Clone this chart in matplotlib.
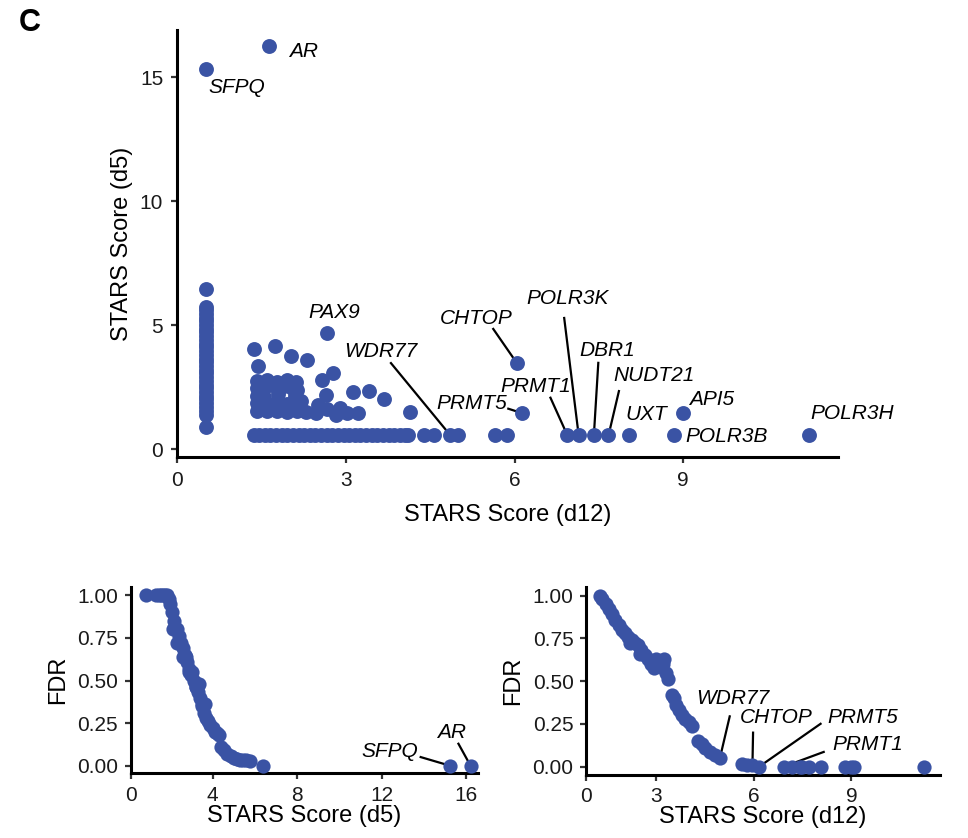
import matplotlib
matplotlib.use("Agg")
import matplotlib.pyplot as plt

plt.rcParams['font.family'] = ['Liberation Sans', 'DejaVu Sans']

BLUE = '#3A53A4'

# ---------- data: main scatter (STARS d12 vs d5) ----------
# labelled genes
gene_names = ['AR', 'SFPQ', 'PAX9', 'WDR77', 'CHTOP', 'PRMT5', 'PRMT1', 'POLR3K',
              'DBR1', 'NUDT21', 'UXT', 'API5', 'POLR3B', 'POLR3H']
gene_d12 = [1.63, 0.51, 2.66, 4.86, 6.04, 6.13, 6.94, 7.14, 7.41, 7.67, 8.03, 8.99, 8.83, 11.23]
gene_d5 = [16.25, 15.31, 4.66, 0.55, 3.47, 1.45, 0.55, 0.55, 0.55, 0.55, 0.55, 1.45, 0.55, 0.55]

# column of genes at the d12 floor
col_d5 = [0.9, 1.37, 1.55, 1.7, 1.85, 2.0, 2.15, 2.3, 2.45, 2.6, 2.75, 2.9, 3.05, 3.2,
          3.35, 3.5, 3.65, 3.8, 3.95, 4.1, 4.25, 4.4, 4.55, 4.7, 4.85, 5.0, 5.15, 5.3,
          5.45, 5.6, 5.74, 6.44]
col_d12 = [0.51] * len(col_d5)

# row of genes at the d5 floor
row_d12 = [1.36, 1.46, 1.56, 1.66, 1.76, 1.86, 1.96, 2.06, 2.16, 2.26, 2.36, 2.46, 2.56,
           2.66, 2.76, 2.86, 2.96, 3.06, 3.16, 3.26, 3.36, 3.46, 3.56, 3.66, 3.76, 3.86,
           3.96, 4.06, 4.1, 4.39, 4.57, 5.0, 5.65, 5.86]
row_d5 = [0.55] * len(row_d12)

# remaining scattered genes
other_d12 = [1.36, 1.75, 2.02, 2.31, 1.44, 2.77, 2.58, 3.12, 3.41, 3.68, 4.15, 2.65, 2.50,
             2.89, 3.03, 3.21, 2.47, 2.67, 2.83,
             1.42, 1.6, 1.78, 1.95, 2.12,
             1.42, 1.55, 2.05, 2.14,
             1.42, 1.55, 1.8, 2.1,
             1.42, 1.6, 1.78, 1.95, 2.14,
             1.42, 1.6, 1.78, 1.95, 2.14, 2.3,
             1.5, 1.7, 1.88, 2.05, 1.5, 2.2, 1.65, 1.9]
other_d5 = [4.02, 4.15, 3.75, 3.59, 3.35, 3.08, 2.78, 2.31, 2.35, 2.0, 1.49, 2.18, 1.77,
            1.64, 1.46, 1.44, 1.44, 1.6, 1.37,
            2.75, 2.78, 2.72, 2.8, 2.7,
            2.45, 2.5, 2.45, 2.4,
            2.15, 2.1, 2.2, 2.12,
            1.85, 1.8, 1.88, 1.82, 1.85,
            1.55, 1.52, 1.55, 1.5, 1.55, 1.5,
            1.68, 1.7, 1.65, 1.7, 2.0, 1.95, 2.6, 2.55]

# ---------- data: FDR vs STARS d5 ----------
fdr5_score = [0.85, 1.35, 1.45, 1.55, 1.65, 1.75, 1.85, 1.95, 2.0, 2.1, 2.2, 2.3, 2.4, 2.5,
              2.6, 2.7, 2.8, 2.9, 3.0, 3.1, 3.2, 3.3, 3.4, 3.5, 3.6, 3.7, 3.8, 3.9, 4.0,
              4.1, 4.2, 4.3, 4.42, 4.55, 4.7, 4.85, 5.0, 5.15, 5.3, 5.45, 5.6, 5.75, 6.4,
              2.15, 2.45, 2.75, 3.05, 3.35, 3.65, 2.3, 2.6, 2.9, 3.2, 3.5]
fdr5_value = [1.0, 1.0, 1.0, 1.0, 1.0, 1.0, 1.0, 0.98, 0.95, 0.9, 0.85, 0.8, 0.76, 0.72,
              0.69, 0.65, 0.61, 0.57, 0.53, 0.5, 0.46, 0.43, 0.4, 0.35, 0.31, 0.28, 0.26,
              0.24, 0.22, 0.2, 0.19, 0.18, 0.11, 0.09, 0.07, 0.055, 0.045, 0.038, 0.033,
              0.032, 0.033, 0.03, 0.0,
              0.8, 0.72, 0.64, 0.55, 0.48, 0.36, 0.72, 0.64, 0.55, 0.46, 0.36]
fdr5_genes = ['SFPQ', 'AR']
fdr5_gene_score = [15.24, 16.2]
fdr5_gene_value = [0.0, 0.0]

# ---------- data: FDR vs STARS d12 ----------
fdr12_score = [1.28, 1.35, 1.45, 1.55, 1.65, 1.75, 1.85, 1.95, 2.05, 2.15, 2.25, 2.35,
               2.45, 2.55, 2.65, 2.75, 2.85, 2.95, 3.05, 3.12, 3.2, 3.3, 3.38, 3.5, 3.55,
               3.62, 3.7, 3.8, 3.9, 4.0, 4.1, 4.3, 4.4, 4.5, 4.65, 4.8, 5.63, 5.8, 7.16,
               7.42, 7.47, 7.69, 8.06, 8.81, 8.99, 9.07, 11.24, 3.0, 3.15, 3.25, 2.2, 2.5]
fdr12_value = [1.0, 0.98, 0.95, 0.92, 0.89, 0.86, 0.83, 0.8, 0.78, 0.76, 0.74, 0.72,
               0.71, 0.68, 0.655, 0.63, 0.6, 0.575, 0.6, 0.62, 0.6, 0.55, 0.51, 0.42, 0.4,
               0.36, 0.33, 0.3, 0.28, 0.26, 0.24, 0.15, 0.13, 0.11, 0.088, 0.07, 0.014,
               0.012, 0.0, 0.0, 0.0, 0.0, 0.0, 0.0, 0.0, 0.0, 0.0, 0.63, 0.58, 0.63,
               0.72, 0.66]
fdr12_genes = ['WDR77', 'CHTOP', 'PRMT5', 'PRMT1']
fdr12_gene_score = [4.96, 5.96, 6.17, 6.93]
fdr12_gene_value = [0.049, 0.01, 0.0, 0.0]

# ---------- label layout (text centre, optional leader start) ----------
main_labels = {
    'AR': (2.25, 16.05, None),
    'SFPQ': (1.06, 14.6, None),
    'PAX9': (2.79, 5.52, None),
    'WDR77': (3.62, 3.92, (3.79, 3.5)),
    'CHTOP': (5.31, 5.27, (5.61, 4.88)),
    'PRMT5': (5.23, 1.84, (5.87, 1.64)),
    'PRMT1': (6.37, 2.51, (6.63, 2.11)),
    'POLR3K': (6.94, 6.08, (6.88, 5.33)),
    'DBR1': (7.64, 3.99, (7.49, 3.52)),
    'NUDT21': (8.48, 2.96, (7.86, 2.38)),
    'UXT': (8.34, 1.41, None),
    'API5': (9.51, 2.01, None),
    'POLR3B': (9.77, 0.5, None),
    'POLR3H': (12.0, 1.45, None),
}
fdr5_labels = {
    'SFPQ': (12.38, 0.082, (13.79, 0.053)),
    'AR': (15.29, 0.195, (15.6, 0.135)),
}
fdr12_labels = {
    'WDR77': (5.37, 0.40, (5.27, 0.30)),
    'CHTOP': (6.70, 0.29, (5.98, 0.205)),
    'PRMT5': (9.36, 0.29, (8.08, 0.254)),
    'PRMT1': (9.49, 0.127, (8.18, 0.088)),
}


def style_axes(ax, size=15, pad=5):
    for side in ['top', 'right']:
        ax.spines[side].set_visible(False)
    for side in ['left', 'bottom']:
        ax.spines[side].set_linewidth(2.2)
        ax.spines[side].set_color('black')
    ax.tick_params(direction='out', length=4, width=1.6, color='#333333',
                   labelsize=size, labelcolor='#1a1a1a', pad=pad)


def add_labels(ax, layout, names, xs, ys, size=15):
    for name, (tx, ty, lead) in layout.items():
        i = names.index(name)
        if lead is not None:
            ax.plot([lead[0], xs[i]], [lead[1], ys[i]], color='black', lw=1.6,
                    zorder=2, solid_capstyle='butt')
        ax.text(tx, ty, name, fontsize=size, style='italic', ha='center',
                va='center', zorder=4)


fig = plt.figure(figsize=(9.68, 8.38), dpi=100)

# ---------- main panel ----------
ax = fig.add_axes([0.1829, 0.4547, 0.6828, 0.5095])
for xs, ys in [(col_d12, col_d5), (row_d12, row_d5), (other_d12, other_d5), (gene_d12, gene_d5)]:
    ax.scatter(xs, ys, s=115, color=BLUE, linewidths=0, zorder=3)
add_labels(ax, main_labels, gene_names, gene_d12, gene_d5)
ax.set_xlim(0, 11.75)
ax.set_ylim(-0.32, 16.9)
ax.set_xticks([0, 3, 6, 9])
ax.set_yticks([0, 5, 10, 15])
style_axes(ax, 15, 6)
ax.set_xlabel('STARS Score (d12)', fontsize=17, labelpad=10)
ax.set_ylabel('STARS Score (d5)', fontsize=17, labelpad=5)

# ---------- FDR vs d5 ----------
ax2 = fig.add_axes([0.135, 0.0772, 0.3588, 0.2227])
ax2.scatter(fdr5_score, fdr5_value, s=105, color=BLUE, linewidths=0, zorder=3)
ax2.scatter(fdr5_gene_score, fdr5_gene_value, s=105, color=BLUE, linewidths=0, zorder=3)
add_labels(ax2, fdr5_labels, fdr5_genes, fdr5_gene_score, fdr5_gene_value)
ax2.set_xlim(0.13, 16.55)
ax2.set_ylim(-0.044, 1.05)
ax2.set_xticks([0.13, 4, 8, 12, 16])
ax2.set_xticklabels(['0', '4', '8', '12', '16'])
ax2.set_yticks([0, 0.25, 0.5, 0.75, 1.0])
ax2.set_yticklabels(['0.00', '0.25', '0.50', '0.75', '1.00'])
style_axes(ax2, 15, 5)
ax2.set_xlabel('STARS Score (d5)', fontsize=17, labelpad=0)
ax2.set_ylabel('FDR', fontsize=17, labelpad=6)

# ---------- FDR vs d12 ----------
ax3 = fig.add_axes([0.6054, 0.0752, 0.3657, 0.2243])
ax3.scatter(fdr12_score, fdr12_value, s=105, color=BLUE, linewidths=0, zorder=3)
ax3.scatter(fdr12_gene_score, fdr12_gene_value, s=105, color=BLUE, linewidths=0, zorder=3)
add_labels(ax3, fdr12_labels, fdr12_genes, fdr12_gene_score, fdr12_gene_value)
ax3.set_xlim(0.85, 11.72)
ax3.set_ylim(-0.049, 1.05)
ax3.set_xticks([0.85, 3, 6, 9])
ax3.set_xticklabels(['0', '3', '6', '9'])
ax3.set_yticks([0, 0.25, 0.5, 0.75, 1.0])
ax3.set_yticklabels(['0.00', '0.25', '0.50', '0.75', '1.00'])
style_axes(ax3, 15, 5)
ax3.set_xlabel('STARS Score (d12)', fontsize=17, labelpad=0)
ax3.set_ylabel('FDR', fontsize=17, labelpad=6)

fig.text(0.031, 0.973, 'C', fontsize=22, fontweight='bold', ha='center', va='center')

fig.savefig('out.png', dpi=100)
